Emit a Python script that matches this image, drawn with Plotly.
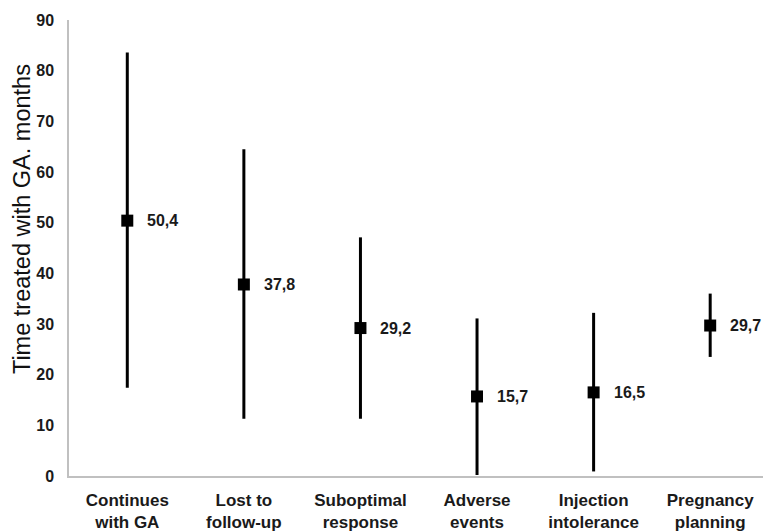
import plotly.graph_objects as go

categories = ["Continues<br>with GA", "Lost to<br>follow-up", "Suboptimal<br>response",
              "Adverse<br>events", "Injection<br>intolerance", "Pregnancy<br>planning"]
means = [50.4, 37.8, 29.2, 15.7, 16.5, 29.7]
upper = [83.6, 64.5, 47.1, 31.1, 32.2, 36.0]
lower = [17.4, 11.3, 11.3, 0.2, 0.9, 23.5]
labels = ["50,4", "37,8", "29,2", "15,7", "16,5", "29,7"]
y_ticks = [0, 10, 20, 30, 40, 50, 60, 70, 80, 90]

xs = list(range(len(categories)))
err_plus = [u - m for u, m in zip(upper, means)]
err_minus = [m - l for m, l in zip(means, lower)]

FONT = "Liberation Sans, Arial, sans-serif"

fig = go.Figure()
fig.add_trace(go.Scatter(
    x=xs, y=means, mode="markers",
    marker=dict(symbol="square", size=12, color="black"),
    error_y=dict(type="data", symmetric=False, array=err_plus, arrayminus=err_minus,
                 width=0, thickness=3, color="black"),
    showlegend=False, hoverinfo="skip",
))

for x, m, t in zip(xs, means, labels):
    fig.add_annotation(x=x, y=m, text="<b>%s</b>" % t, showarrow=False,
                       xanchor="left", yanchor="middle", xshift=18,
                       font=dict(family=FONT, size=16, color="#1a1a1a"))

fig.add_annotation(xref="paper", yref="paper", x=-0.068, y=0.563,
                   text="Time treated with GA. months", textangle=-90,
                   showarrow=False, xanchor="center", yanchor="middle",
                   font=dict(family=FONT, size=23.5, color="#111"))

fig.update_layout(
    width=763, height=532,
    margin=dict(l=69, r=0, t=20, b=51),
    plot_bgcolor="white", paper_bgcolor="white",
    xaxis=dict(range=[-0.5, 5.453], tickmode="array", tickvals=xs,
               ticktext=["<b>%s</b>" % c for c in categories],
               showgrid=False, zeroline=False, showline=True,
               linecolor="#c0c0c0", linewidth=1.5, ticks="",
               ticklabelstandoff=8,
               tickfont=dict(family=FONT, size=17, color="#1a1a1a")),
    yaxis=dict(range=[0, 90], tickmode="array", tickvals=y_ticks,
               ticktext=["<b>%d</b>" % v for v in y_ticks],
               showgrid=False, zeroline=False, showline=True,
               linecolor="#c0c0c0", linewidth=1.5, ticks="",
               ticklabelstandoff=10,
               tickfont=dict(family=FONT, size=16, color="#1a1a1a")),
)

# remove the page's default body margin so the figure fills the window exactly
fig.write_html("out.html",
               config={"displayModeBar": False},
               post_script="document.body.style.margin='0';"
                           "document.body.style.overflow='hidden';")
